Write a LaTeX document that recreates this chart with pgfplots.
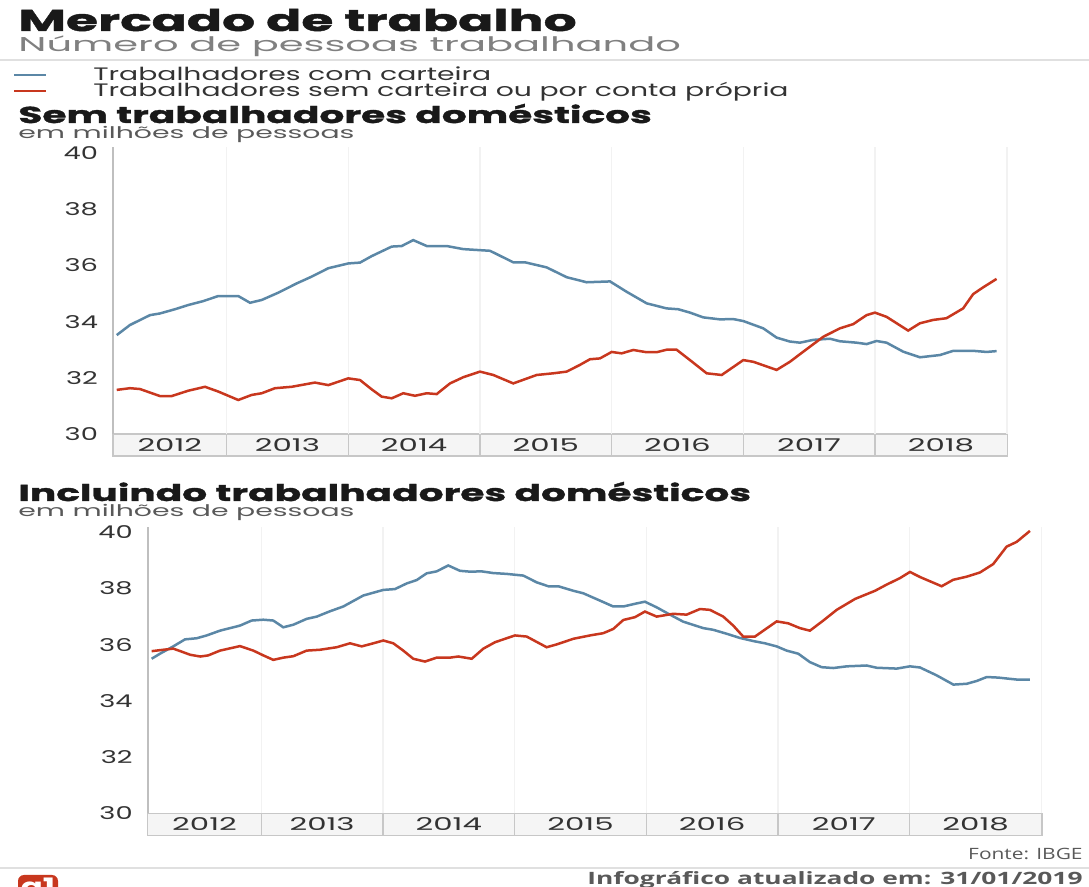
\documentclass[border=0pt]{standalone}
\usepackage{fontspec}
\setmainfont{Poppins}[FakeStretch=1.35]
\newfontfamily\titlefont{Poppins}[FakeStretch=1.73, BoldFeatures={FakeBold=1.5}]
\newfontfamily\subfont{Poppins}[FakeStretch=2.0]
\newfontfamily\legfont{Poppins}[FakeStretch=1.57]
\newfontfamily\headfont{Poppins}[FakeStretch=1.70, BoldFeatures={FakeBold=1.5}]
\newfontfamily\unitfont{Poppins}[FakeStretch=1.77]
\newfontfamily\xtickfont{Poppins}[FakeStretch=1.75]
\newfontfamily\ytickfont{Poppins}[FakeStretch=1.55]
\newfontfamily\opensans{Open Sans}[FakeStretch=1.34]
\newfontfamily\opensansw{Open Sans}[FakeStretch=1.55]
\usepackage{pgfplots}
\usepackage{pgfplotstable}
\pgfplotsset{compat=1.18}
\definecolor{cblue}{HTML}{5B87A6}
\definecolor{cred}{HTML}{C8371E}
\definecolor{txt}{HTML}{333333}
\definecolor{sub}{HTML}{808080}

\pgfplotstableread{
m v
0.34 33.52
1.55 33.88
3.37 34.23
4.28 34.29
5.65 34.44
6.86 34.59
8.23 34.73
9.60 34.91
11.42 34.91
12.49 34.67
13.56 34.77
15.07 35.03
16.75 35.36
18.11 35.60
19.63 35.90
21.45 36.07
22.52 36.10
23.58 36.33
25.41 36.67
26.32 36.69
27.37 36.90
28.60 36.69
30.42 36.69
31.93 36.58
34.37 36.52
36.49 36.11
37.56 36.11
39.53 35.93
41.36 35.58
43.18 35.40
45.31 35.43
46.83 35.06
48.65 34.65
50.47 34.47
51.53 34.44
52.60 34.32
53.81 34.15
55.33 34.08
56.54 34.09
57.46 34.02
59.28 33.76
60.50 33.43
61.71 33.29
62.63 33.25
63.84 33.35
65.36 33.39
66.27 33.30
67.79 33.25
68.70 33.20
69.61 33.31
70.52 33.25
72.04 32.93
73.56 32.73
75.39 32.81
76.60 32.96
78.42 32.96
79.64 32.92
80.55 32.95
}\topblue

\pgfplotstableread{
m v
0.34 31.57
1.55 31.63
2.46 31.60
4.28 31.35
5.35 31.35
6.86 31.54
8.39 31.68
9.60 31.51
11.42 31.21
12.64 31.39
13.56 31.45
14.77 31.63
16.29 31.68
18.41 31.83
19.63 31.74
21.45 31.98
22.52 31.92
23.58 31.59
24.49 31.33
25.41 31.27
26.46 31.45
27.53 31.36
28.60 31.45
29.51 31.42
30.72 31.80
31.93 32.02
33.45 32.22
34.67 32.10
36.49 31.80
38.62 32.10
40.14 32.16
41.36 32.22
42.57 32.46
43.48 32.66
44.39 32.69
45.46 32.92
46.37 32.87
47.43 32.99
48.65 32.91
49.56 32.91
50.47 33.00
51.38 33.00
52.60 32.63
54.12 32.16
55.49 32.10
57.46 32.63
58.37 32.57
60.50 32.28
61.71 32.57
62.93 32.93
64.75 33.46
66.27 33.76
67.48 33.91
68.70 34.23
69.46 34.32
70.52 34.17
72.49 33.68
73.56 33.94
74.77 34.06
75.98 34.12
77.50 34.47
78.42 34.98
79.33 35.22
80.55 35.52
}\topred

\pgfplotstableread{
m v
0.36 35.50
1.12 35.68
2.33 35.94
3.40 36.19
4.47 36.23
5.38 36.33
6.59 36.50
8.41 36.68
9.48 36.86
10.54 36.89
11.45 36.86
12.36 36.62
13.27 36.71
14.49 36.92
15.41 37.00
16.62 37.19
17.83 37.36
19.65 37.75
21.48 37.95
22.54 37.98
23.61 38.18
24.52 38.30
25.43 38.54
26.34 38.61
27.40 38.82
28.47 38.63
29.38 38.60
30.45 38.61
31.50 38.55
32.73 38.52
34.24 38.46
35.46 38.22
36.52 38.08
37.43 38.08
38.80 37.92
39.71 37.83
41.23 37.57
42.44 37.36
43.36 37.36
44.58 37.47
45.33 37.53
46.40 37.33
47.61 37.07
48.82 36.82
50.65 36.59
51.56 36.53
52.78 36.39
53.99 36.24
55.21 36.13
56.27 36.05
57.34 35.94
58.25 35.79
59.31 35.68
60.37 35.38
61.44 35.20
62.50 35.17
63.72 35.23
65.54 35.26
66.45 35.18
68.28 35.15
69.49 35.23
70.40 35.19
71.92 34.91
73.45 34.58
74.67 34.61
75.58 34.71
76.49 34.85
77.53 34.83
79.22 34.76
80.43 34.76
}\botblue

\pgfplotstableread{
m v
0.36 35.77
1.42 35.82
2.33 35.86
2.98 35.77
3.89 35.64
4.80 35.58
5.52 35.62
6.59 35.79
8.41 35.95
9.63 35.79
10.54 35.62
11.45 35.46
12.36 35.54
13.27 35.59
14.49 35.79
15.70 35.82
17.23 35.91
18.44 36.05
19.51 35.94
20.57 36.05
21.48 36.15
22.39 36.05
23.30 35.79
24.21 35.50
25.28 35.40
26.34 35.54
27.56 35.54
28.31 35.58
29.54 35.50
30.60 35.86
31.67 36.09
33.48 36.33
34.55 36.29
36.37 35.91
37.28 36.01
38.80 36.21
40.32 36.33
41.53 36.41
42.44 36.56
43.36 36.88
44.42 36.98
45.33 37.18
46.40 37.00
47.91 37.10
49.13 37.07
50.35 37.27
51.26 37.24
52.47 37.00
53.38 36.68
54.29 36.29
55.36 36.29
57.34 36.83
58.40 36.76
59.46 36.59
60.37 36.50
61.59 36.86
62.81 37.24
64.49 37.63
66.31 37.92
67.37 38.14
68.58 38.37
69.49 38.59
70.40 38.41
72.38 38.08
73.43 38.31
74.65 38.42
75.87 38.57
77.08 38.87
78.30 39.49
79.22 39.66
80.43 40.05
}\botred

\pgfplotsset{
  mychart/.style={
    scale only axis, width=447pt, height=143.3pt,
    xmin=0, xmax=81.5, ymin=30, ymax=40.2,
    clip=false,
    axis x line*=bottom, axis y line*=left,
    x axis line style={draw=none},
    y axis line style={draw=black!25, line width=0.9pt},
    ytick={30,32,34,36,38,40},
    xtick={5.18,15.9,27.45,39.46,51.46,63.46,75.48},
    xticklabels={2012,2013,2014,2015,2016,2017,2018},
    major tick length=0pt,
    /pgf/number format/assume math mode=true,
    xticklabel style={anchor=center, yshift=-5.5pt, text=txt, font=\xtickfont\fontsize{8.8}{10}\selectfont},
    yticklabel style={text=txt, xshift=-4pt, font=\ytickfont\fontsize{8.8}{10}\selectfont},
    extra x ticks={10.36,21.45,33.45,45.46,57.46,69.46,81.5},
    extra x tick labels={},
    extra x tick style={grid=major, major grid style={draw=black!5, line width=0.7pt}},
  },
}

% year band in picture units (px)
\newcommand{\yearband}[2]{% #1 = left x, #2 = top y (negative)
  \begin{scope}[shift={(#1,#2)}]
    \filldraw[fill=black!4, draw=black!22, line width=0.6pt] (0,0) rectangle (894.3,-22);
    \foreach \g in {113.7,235.3,367,498.7,630.3,762}
      \draw[black!22, line width=0.6pt] (\g,0) -- (\g,-22);
  \end{scope}}

\begin{document}
\begin{tikzpicture}[x=0.5pt,y=0.5pt]
\path[use as bounding box] (0,0) rectangle (1089,-887);

% header
\node[anchor=base west, inner sep=0, text=black!90, font=\titlefont\fontsize{15}{17}\selectfont\bfseries] at (18,-31) {Mercado de trabalho};
\node[anchor=base west, inner sep=0, text=sub, font=\subfont\fontsize{10}{12}\selectfont] at (18,-52) {Número de pessoas trabalhando};
\draw[black!12, line width=0.6pt] (0,-60) -- (1089,-60);

% legend
\draw[cblue, line width=1pt] (14,-75) -- (46,-75);
\draw[cred, line width=1pt] (14,-91) -- (46,-91);
\node[anchor=base west, inner sep=0, text=txt, font=\legfont\fontsize{9}{11}\selectfont] at (93,-81) {Trabalhadores com carteira};
\node[anchor=base west, inner sep=0, text=txt, font=\legfont\fontsize{9}{11}\selectfont] at (93,-97) {Trabalhadores sem carteira ou por conta própria};

% section 1
\node[anchor=base west, inner sep=0, text=black!90, font=\headfont\fontsize{11.5}{13}\selectfont\bfseries] at (18,-123) {Sem trabalhadores domésticos};
\node[anchor=base west, inner sep=0, text=black!65, font=\unitfont\fontsize{8}{10}\selectfont] at (18,-139) {em milhões de pessoas};

\yearband{113}{-434}
\begin{axis}[mychart, at={(56.5pt,-217pt)}, anchor=south west]
\addplot[cblue, line width=1.25pt] table[x=m, y=v] {\topblue};
\addplot[cred, line width=1.25pt] table[x=m, y=v] {\topred};
\end{axis}

% section 2
\node[anchor=base west, inner sep=0, text=black!90, font=\headfont\fontsize{11.5}{13}\selectfont\bfseries] at (18,-501) {Incluindo trabalhadores domésticos};
\node[anchor=base west, inner sep=0, text=black!65, font=\unitfont\fontsize{8}{10}\selectfont] at (18,-517) {em milhões de pessoas};

\yearband{147.7}{-813.3}
\begin{axis}[mychart, at={(73.85pt,-406.65pt)}, anchor=south west]
\addplot[cblue, line width=1.25pt] table[x=m, y=v] {\botblue};
\addplot[cred, line width=1.25pt] table[x=m, y=v] {\botred};
\end{axis}

% footer
\node[anchor=base east, inner sep=0, text=black!65, font=\opensans\fontsize{7.8}{9}\selectfont] at (1083,-860) {Fonte: IBGE};
\draw[black!12, line width=0.6pt] (0,-868) -- (1089,-868);
\node[anchor=base east, inner sep=0, text=black!65, font=\opensansw\fontsize{8.5}{10}\selectfont\bfseries] at (1083,-885) {Infográfico atualizado em: 31/01/2019};
\begin{scope}
\clip (0,0) rectangle (1089,-887);
\fill[cred, rounded corners=3pt] (18,-875) rectangle (58,-905);
\node[anchor=base, inner sep=0, text=white, font=\fontsize{12}{14}\selectfont\bfseries] at (38,-896) {g1};
\end{scope}
\end{tikzpicture}
\end{document}
